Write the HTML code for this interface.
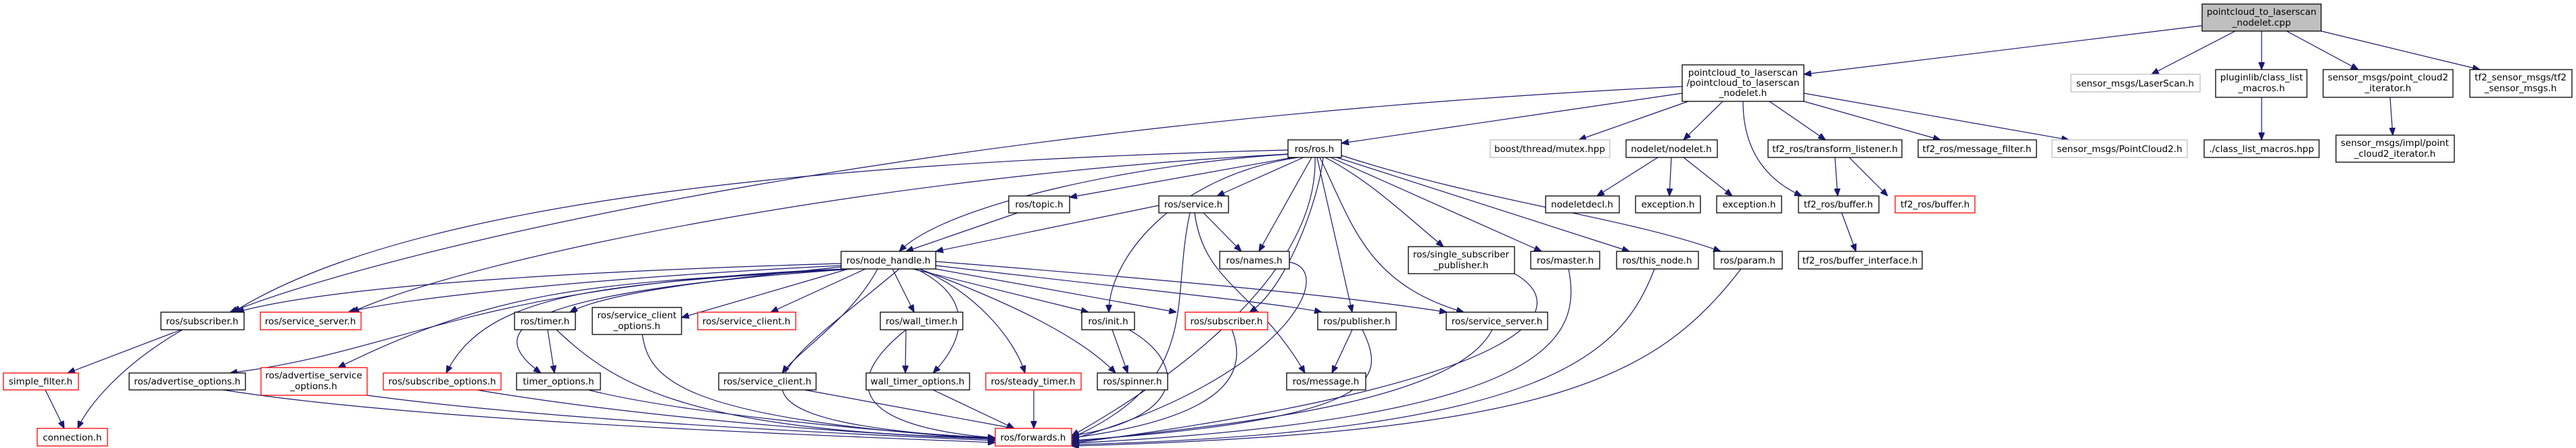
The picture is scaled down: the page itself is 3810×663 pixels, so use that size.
<!DOCTYPE html>
<html><head><meta charset="utf-8"><style>
html,body{margin:0;padding:0;background:#fff;width:3810px;height:663px;overflow:hidden}
svg text{font-family:"DejaVu Sans","Liberation Sans",sans-serif;font-size:13.5px;fill:#000;text-anchor:middle}
.b{fill:#fff;stroke:#000;stroke-width:1.3}
.r{fill:#fff;stroke:#ff0000;stroke-width:1.3}
.g{fill:#fff;stroke:#bfbfbf;stroke-width:1.3}
.e path{fill:none;stroke:#191970;stroke-width:1.2}
</style></head><body>
<svg width="3810" height="663" viewBox="0 0 3810 663" xmlns="http://www.w3.org/2000/svg">
<defs><marker id="a" markerWidth="11" markerHeight="9" refX="11" refY="4.5" orient="auto" markerUnits="userSpaceOnUse"><path d="M0,0L11,4.5L0,9z" fill="#191970" stroke="#191970"/></marker></defs>
<g class="e" marker-end="url(#a)">
<path marker-end="url(#a)" d="M3257,38 L2668,110"/>
<path marker-end="url(#a)" d="M3306,46 L3182,110"/>
<path marker-end="url(#a)" d="M3345,46 L3345,103"/>
<path marker-end="url(#a)" d="M3382,46 L3488,103"/>
<path marker-end="url(#a)" d="M3433,46 L3668,103"/>
<path marker-end="url(#a)" d="M3345,144 L3345,207"/>
<path marker-end="url(#a)" d="M3535,144 L3539,200"/>
<path marker-end="url(#a)" d="M2488,128 C1400,180 600,360 340,462"/>
<path marker-end="url(#a)" d="M2488,138 L1984,212"/>
<path marker-end="url(#a)" d="M2497,150 L2335,207"/>
<path marker-end="url(#a)" d="M2548,150 L2490,207"/>
<path marker-end="url(#a)" d="M2578,150 C2578,230 2620,270 2665,290"/>
<path marker-end="url(#a)" d="M2617,150 L2700,207"/>
<path marker-end="url(#a)" d="M2668,150 L2870,207"/>
<path marker-end="url(#a)" d="M2668,138 L3060,207"/>
<path marker-end="url(#a)" d="M1905,222 C1200,240 600,300 345,462"/>
<path marker-end="url(#a)" d="M1905,228 C1300,260 700,380 520,462"/>
<path marker-end="url(#a)" d="M1910,228 C1700,240 1400,300 1330,372"/>
<path marker-end="url(#a)" d="M1912,233 L1582,292"/>
<path marker-end="url(#a)" d="M1928,233 L1800,290"/>
<path marker-end="url(#a)" d="M1940,233 L1862,372"/>
<path marker-end="url(#a)" d="M1920,233 C1740,260 1640,380 1640,462"/>
<path marker-end="url(#a)" d="M1957,233 C1950,300 1900,430 1848,462"/>
<path marker-end="url(#a)" d="M1948,233 L2000,462"/>
<path marker-end="url(#a)" d="M1952,233 C2000,330 2020,420 2165,462"/>
<path marker-end="url(#a)" d="M1960,233 C2030,270 2080,320 2135,365"/>
<path marker-end="url(#a)" d="M1968,233 L2280,372"/>
<path marker-end="url(#a)" d="M1977,233 L2410,372"/>
<path marker-end="url(#a)" d="M1984,230 C2200,300 2400,320 2545,372"/>
<path marker-end="url(#a)" d="M1945,233 C1950,420 1700,580 1585,645"/>
<path marker-end="url(#a)" d="M1505,315 L1340,372"/>
<path marker-end="url(#a)" d="M1714,304 L1384,372"/>
<path marker-end="url(#a)" d="M1780,315 L1836,372"/>
<path marker-end="url(#a)" d="M1760,315 C1730,450 1780,560 1585,648"/>
<path marker-end="url(#a)" d="M1767,315 C1780,420 1860,430 1930,552"/>
<path marker-end="url(#a)" d="M1244,390 C900,400 500,420 350,462"/>
<path marker-end="url(#a)" d="M1244,393 C900,410 600,440 515,462"/>
<path marker-end="url(#a)" d="M1250,398 C700,420 600,520 340,552"/>
<path marker-end="url(#a)" d="M1250,398 C900,420 750,420 500,544"/>
<path marker-end="url(#a)" d="M1258,398 C900,420 720,430 660,552"/>
<path marker-end="url(#a)" d="M1244,395 C1100,410 900,430 843,462"/>
<path marker-end="url(#a)" d="M1262,398 C800,430 700,480 800,552"/>
<path marker-end="url(#a)" d="M1255,398 L1008,470"/>
<path marker-end="url(#a)" d="M1280,398 L1140,462"/>
<path marker-end="url(#a)" d="M1298,398 C1260,470 1180,520 1157,552"/>
<path marker-end="url(#a)" d="M1320,398 L1352,462"/>
<path marker-end="url(#a)" d="M1355,398 C1440,440 1430,500 1380,552"/>
<path marker-end="url(#a)" d="M1360,398 C1440,430 1500,500 1516,552"/>
<path marker-end="url(#a)" d="M1360,398 C1500,450 1600,500 1650,552"/>
<path marker-end="url(#a)" d="M1350,398 L1610,462"/>
<path marker-end="url(#a)" d="M1384,398 L1740,462"/>
<path marker-end="url(#a)" d="M1384,393 C1700,430 1900,450 1955,462"/>
<path marker-end="url(#a)" d="M1384,387 C1800,420 2000,440 2140,462"/>
<path marker-end="url(#a)" d="M1330,398 C1150,550 1000,620 1472,650"/>
<path marker-end="url(#a)" d="M1907,388 C1980,400 1900,560 1585,650"/>
<path marker-end="url(#a)" d="M268,488 L100,552"/>
<path marker-end="url(#a)" d="M270,488 C180,540 130,600 115,634"/>
<path marker-end="url(#a)" d="M67,577 L95,634"/>
<path marker-end="url(#a)" d="M810,488 L820,552"/>
<path marker-end="url(#a)" d="M823,488 C900,560 1000,640 1472,648"/>
<path marker-end="url(#a)" d="M950,495 C960,560 1000,620 1472,650"/>
<path marker-end="url(#a)" d="M1340,488 L1339,552"/>
<path marker-end="url(#a)" d="M1340,488 C1250,560 1250,630 1472,648"/>
<path marker-end="url(#a)" d="M1529,577 L1529,634"/>
<path marker-end="url(#a)" d="M1190,577 L1500,634"/>
<path marker-end="url(#a)" d="M1380,577 L1500,634"/>
<path marker-end="url(#a)" d="M1645,488 L1668,552"/>
<path marker-end="url(#a)" d="M1670,488 C1760,540 1750,620 1585,645"/>
<path marker-end="url(#a)" d="M1822,488 C1850,560 1800,620 1585,648"/>
<path marker-end="url(#a)" d="M2000,488 L1970,552"/>
<path marker-end="url(#a)" d="M2015,488 C2050,560 2050,620 1585,652"/>
<path marker-end="url(#a)" d="M2207,488 C2150,600 1800,630 1585,654"/>
<path marker-end="url(#a)" d="M2240,405 C2320,450 2310,560 1585,656"/>
<path marker-end="url(#a)" d="M2320,398 C2340,500 2300,620 1585,656"/>
<path marker-end="url(#a)" d="M2447,398 C2400,520 2300,640 1585,658"/>
<path marker-end="url(#a)" d="M2575,398 C2450,560 2300,640 1585,660"/>
<path marker-end="url(#a)" d="M330,577 C600,620 1100,640 1472,655"/>
<path marker-end="url(#a)" d="M543,585 C800,620 1200,640 1472,652"/>
<path marker-end="url(#a)" d="M705,577 C900,610 1200,640 1472,650"/>
<path marker-end="url(#a)" d="M870,577 C1000,610 1300,640 1472,648"/>
<path marker-end="url(#a)" d="M2714,233 L2718,290"/>
<path marker-end="url(#a)" d="M2735,233 L2792,290"/>
<path marker-end="url(#a)" d="M2724,315 L2745,372"/>
<path marker-end="url(#a)" d="M2452,233 L2362,290"/>
<path marker-end="url(#a)" d="M2472,233 L2469,290"/>
<path marker-end="url(#a)" d="M2490,233 L2562,290"/>
</g>

<!-- nodes -->
<rect x="3257" y="6" width="176" height="40" fill="#bfbfbf" stroke="#000" stroke-width="1.3"/>
<text x="3345" y="22">pointcloud_to_laserscan</text><text x="3345" y="38">_nodelet.cpp</text>

<rect class="g" x="3063" y="110" width="191" height="26"/><text x="3158" y="128">sensor_msgs/LaserScan.h</text>
<rect class="b" x="3277" y="103" width="135" height="41"/><text x="3345" y="119">pluginlib/class_list</text><text x="3345" y="135">_macros.h</text>
<rect class="b" x="3436" y="103" width="192" height="41"/><text x="3532" y="119">sensor_msgs/point_cloud2</text><text x="3532" y="135">_iterator.h</text>
<rect class="b" x="3653" y="103" width="151" height="41"/><text x="3728" y="119">tf2_sensor_msgs/tf2</text><text x="3728" y="135">_sensor_msgs.h</text>

<rect class="b" x="2488" y="96" width="180" height="54"/><text x="2578" y="112">pointcloud_to_laserscan</text><text x="2578" y="127">/pointcloud_to_laserscan</text><text x="2578" y="142">_nodelet.h</text>

<rect class="b" x="1905" y="207" width="79" height="26"/><text x="1944" y="225">ros/ros.h</text>
<rect class="g" x="2204" y="207" width="177" height="26"/><text x="2292" y="225">boost/thread/mutex.hpp</text>
<rect class="b" x="2405" y="207" width="135" height="26"/><text x="2472" y="225">nodelet/nodelet.h</text>
<rect class="b" x="2615" y="207" width="198" height="26"/><text x="2714" y="225">tf2_ros/transform_listener.h</text>
<rect class="b" x="2837" y="207" width="175" height="26"/><text x="2924" y="225">tf2_ros/message_filter.h</text>
<rect class="g" x="3035" y="207" width="200" height="26"/><text x="3135" y="225">sensor_msgs/PointCloud2.h</text>
<rect class="b" x="3260" y="207" width="170" height="26"/><text x="3345" y="225">./class_list_macros.hpp</text>
<rect class="b" x="3455" y="200" width="175" height="40"/><text x="3542" y="216">sensor_msgs/impl/point</text><text x="3542" y="232">_cloud2_iterator.h</text>

<rect class="b" x="1492" y="290" width="90" height="25"/><text x="1537" y="307">ros/topic.h</text>
<rect class="b" x="1714" y="290" width="103" height="25"/><text x="1765" y="307">ros/service.h</text>
<rect class="b" x="2286" y="290" width="109" height="25"/><text x="2340" y="307">nodeletdecl.h</text>
<rect class="b" x="2419" y="290" width="96" height="25"/><text x="2467" y="307">exception.h</text>
<rect class="b" x="2539" y="290" width="96" height="25"/><text x="2587" y="307">exception.h</text>
<rect class="b" x="2660" y="290" width="119" height="25"/><text x="2719" y="307">tf2_ros/buffer.h</text>
<rect class="r" x="2803" y="290" width="118" height="25"/><text x="2862" y="307">tf2_ros/buffer.h</text>

<rect class="b" x="1244" y="372" width="140" height="26"/><text x="1314" y="390">ros/node_handle.h</text>
<rect class="b" x="1804" y="372" width="103" height="26"/><text x="1855" y="390">ros/names.h</text>
<rect class="b" x="2083" y="365" width="157" height="40"/><text x="2161" y="381">ros/single_subscriber</text><text x="2161" y="397">_publisher.h</text>
<rect class="b" x="2264" y="372" width="102" height="26"/><text x="2315" y="390">ros/master.h</text>
<rect class="b" x="2391" y="372" width="121" height="26"/><text x="2451" y="390">ros/this_node.h</text>
<rect class="b" x="2535" y="372" width="101" height="26"/><text x="2585" y="390">ros/param.h</text>
<rect class="b" x="2660" y="372" width="183" height="26"/><text x="2751" y="390">tf2_ros/buffer_interface.h</text>

<rect class="b" x="238" y="462" width="123" height="26"/><text x="299" y="480">ros/subscriber.h</text>
<rect class="r" x="385" y="462" width="149" height="26"/><text x="459" y="480">ros/service_server.h</text>
<rect class="b" x="761" y="462" width="90" height="26"/><text x="806" y="480">ros/timer.h</text>
<rect class="b" x="876" y="455" width="132" height="40"/><text x="942" y="471">ros/service_client</text><text x="942" y="487">_options.h</text>
<rect class="r" x="1032" y="462" width="145" height="26"/><text x="1104" y="480">ros/service_client.h</text>
<rect class="b" x="1302" y="462" width="122" height="26"/><text x="1363" y="480">ros/wall_timer.h</text>
<rect class="b" x="1600" y="462" width="78" height="26"/><text x="1639" y="480">ros/init.h</text>
<rect class="r" x="1753" y="462" width="122" height="26"/><text x="1814" y="480">ros/subscriber.h</text>
<rect class="b" x="1949" y="462" width="116" height="26"/><text x="2007" y="480">ros/publisher.h</text>
<rect class="b" x="2139" y="462" width="150" height="26"/><text x="2214" y="480">ros/service_server.h</text>

<rect class="r" x="5" y="552" width="111" height="25"/><text x="60" y="569">simple_filter.h</text>
<rect class="b" x="191" y="552" width="172" height="25"/><text x="277" y="569">ros/advertise_options.h</text>
<rect class="r" x="386" y="544" width="157" height="41"/><text x="464" y="560">ros/advertise_service</text><text x="464" y="576">_options.h</text>
<rect class="r" x="567" y="552" width="174" height="25"/><text x="654" y="569">ros/subscribe_options.h</text>
<rect class="b" x="764" y="552" width="124" height="25"/><text x="826" y="569">timer_options.h</text>
<rect class="b" x="1063" y="552" width="144" height="25"/><text x="1135" y="569">ros/service_client.h</text>
<rect class="b" x="1281" y="552" width="153" height="25"/><text x="1357" y="569">wall_timer_options.h</text>
<rect class="r" x="1458" y="552" width="141" height="25"/><text x="1528" y="569">ros/steady_timer.h</text>
<rect class="b" x="1623" y="552" width="104" height="25"/><text x="1675" y="569">ros/spinner.h</text>
<rect class="b" x="1903" y="552" width="117" height="25"/><text x="1961" y="569">ros/message.h</text>

<rect class="r" x="55" y="634" width="104" height="26"/><text x="107" y="652">connection.h</text>
<rect class="r" x="1472" y="634" width="113" height="26"/><text x="1528" y="652">ros/forwards.h</text>
</svg>
</body></html>
